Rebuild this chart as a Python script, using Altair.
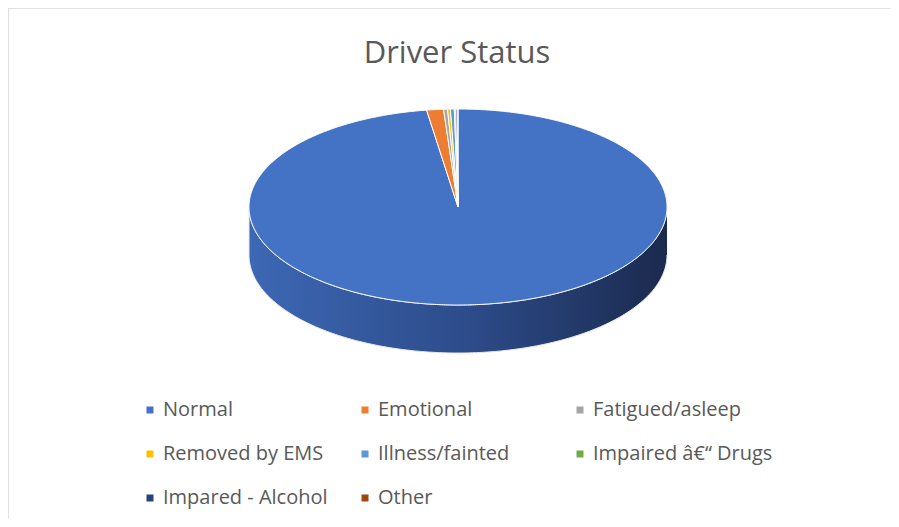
import altair as alt
import numpy as np
import pandas as pd

# ---- data ----
categories = ["Normal", "Emotional", "Fatigued/asleep", "Removed by EMS",
              "Illness/fainted", "Impaired \u00e2\u20ac\u201c Drugs",
              "Impared - Alcohol", "Other"]
shares = [97.6, 1.3, 0.3, 0.22, 0.3, 0.1, 0.12, 0.06]
colors = ["#4472C4", "#ED7D31", "#A5A5A5", "#FFC000",
          "#5B9BD5", "#70AD47", "#264478", "#9E480E"]
title_text = "Driver Status"

# ---- derived geometry (unit ellipse, angles clockwise from 12 o'clock) ----
DEPTH = 0.49  # thickness of the 3-D side, in units of the vertical radius
rows = []
total = sum(shares)
start = 0.0
for cat, v in zip(categories, shares):
    sweep = v / total * 360.0
    end = start + sweep
    n = max(2, int(np.ceil(sweep / 0.5)) + 1)
    angs = np.radians(np.linspace(start, end, n))
    pts = [(0.0, 0.0)] + [(np.sin(a), np.cos(a)) for a in angs] + [(0.0, 0.0)]
    for i, (x, y) in enumerate(pts):
        rows.append({"cat": cat, "i": i, "x": x, "y": y})
    start = end
slices = pd.DataFrame(rows)

side_rows = []
angs = np.radians(np.linspace(90, 270, 181))
k = 0
for a in angs:
    side_rows.append({"i": k, "x": np.sin(a), "y": np.cos(a)}); k += 1
for a in angs[::-1]:
    side_rows.append({"i": k, "x": np.sin(a), "y": np.cos(a) - DEPTH}); k += 1
side = pd.DataFrame(side_rows)

W, H = 883, 511
xs = alt.Scale(domain=[-1, 1], range=[241, 659], nice=False, zero=False)
ys = alt.Scale(domain=[-1, 1], range=[297, 101], nice=False, zero=False)

side_grad = alt.LinearGradient(
    gradient="linear",
    stops=[alt.GradientStop(color="#3D68B5", offset=0),
           alt.GradientStop(color="#2C4A87", offset=0.55),
           alt.GradientStop(color="#1B2A4E", offset=1)],
    x1=0, x2=1, y1=0, y2=0)

side_layer = alt.Chart(side).mark_line(
    filled=True, fill=side_grad, stroke="#E8E8E8", strokeWidth=1
).encode(
    x=alt.X("x:Q", scale=xs, axis=None),
    y=alt.Y("y:Q", scale=ys, axis=None),
    order="i:Q",
)

top_layer = alt.Chart(slices).mark_line(
    filled=True, stroke="white", strokeWidth=1
).encode(
    x=alt.X("x:Q", scale=xs, axis=None),
    y=alt.Y("y:Q", scale=ys, axis=None),
    order="i:Q",
    color=alt.Color(
        "cat:N",
        scale=alt.Scale(domain=categories, range=colors),
        sort=categories,
        legend=alt.Legend(
            title=None, orient="none", legendX=132, legendY=392,
            direction="horizontal", columns=3, gridAlign="all",
            columnPadding=12, rowPadding=24,
            symbolType="square", symbolSize=49, symbolStrokeWidth=0,
            labelFont="Open Sans", labelFontSize=20, labelColor="#595959",
            labelOffset=3, labelLimit=400, padding=0,
        ),
    ),
)

dummy = pd.DataFrame({"d": [0]})
title_layer = alt.Chart(dummy).mark_text(
    text=title_text, font="Open Sans", fontSize=31, color="#595959",
    align="center", baseline="middle"
).encode(x=alt.value(449), y=alt.value(46))

border_top = alt.Chart(dummy).mark_rule(color="#D9D9D9", strokeWidth=1.6).encode(
    x=alt.value(0), x2=alt.value(W + 10), y=alt.value(0))
border_left = alt.Chart(dummy).mark_rule(color="#D9D9D9", strokeWidth=1.6).encode(
    x=alt.value(0), y=alt.value(0), y2=alt.value(H + 10))

chart = alt.layer(
    border_top, border_left, side_layer, top_layer, title_layer
).properties(
    width=W, height=H, padding=0,
    autosize=alt.AutoSizeParams(type="none"),
    background="white",
).configure_view(stroke=None)

chart.save("out.html", embed_options={"renderer": "svg", "actions": False})
